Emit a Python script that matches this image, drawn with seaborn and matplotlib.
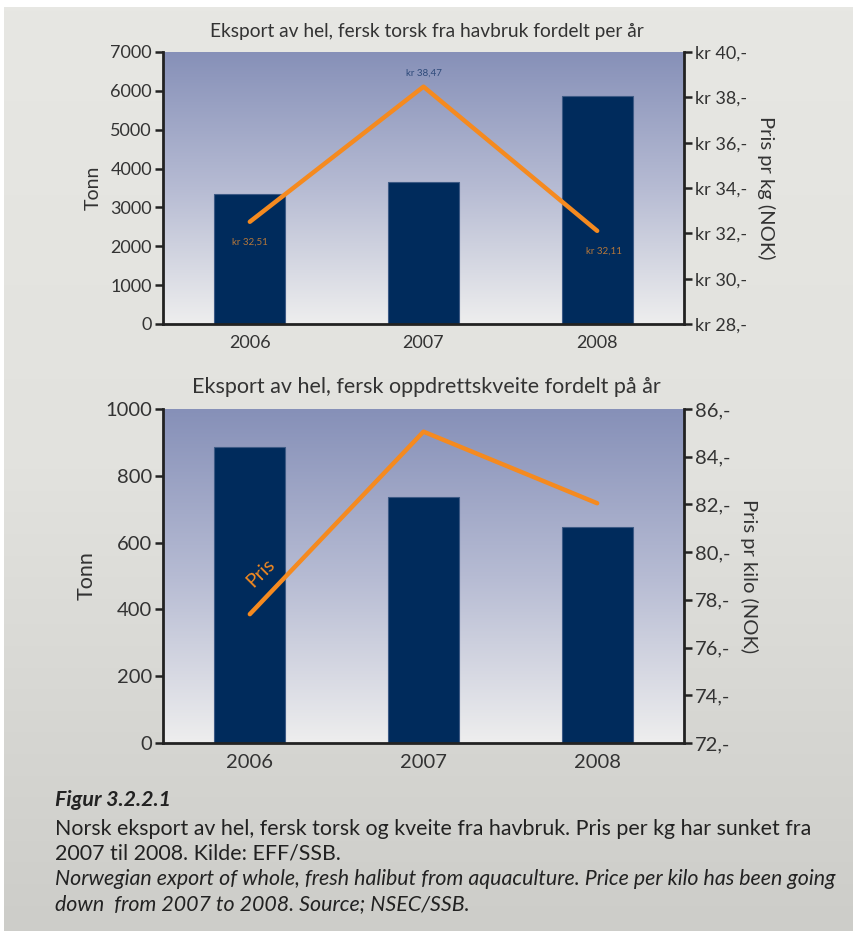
import numpy as np
import pandas as pd
import matplotlib
matplotlib.use("Agg")
import matplotlib.pyplot as plt
from matplotlib.colors import LinearSegmentedColormap
import seaborn as sns

# ---- data ----
years = ["2006", "2007", "2008"]
torsk_tonn = [3350, 3650, 5880]
torsk_pris = [32.51, 38.47, 32.11]
torsk_pris_labels = ["kr 32,51", "kr 38,47", "kr 32,11"]
kveite_tonn = [886, 737, 646]
kveite_pris = [77.4, 85.05, 82.05]

top_title = "Eksport av hel, fersk torsk fra havbruk fordelt per år"
bot_title = "Eksport av hel, fersk oppdrettskveite fordelt på år"
caption_head = "Figur 3.2.2.1"
caption_no = ["Norsk eksport av hel, fersk torsk og kveite fra havbruk. Pris per kg har sunket fra",
              "2007 til 2008. Kilde: EFF/SSB."]
caption_en = ["Norwegian export of whole, fresh halibut from aquaculture. Price per kilo has been going",
              "down  from 2007 to 2008. Source; NSEC/SSB."]

sns.set_theme(style="white")
plt.rcParams["font.family"] = ["Lato", "DejaVu Sans"]

W, H = 854, 931
fig = plt.figure(figsize=(W / 100, H / 100), dpi=100)
fig.patch.set_facecolor("white")

# figure background gradient
bg = fig.add_axes([4 / W, 0, 1 - 4 / W, 1 - 7 / H], zorder=-10)
bg_cmap = LinearSegmentedColormap.from_list("bg", ["#e7e7e3", "#e2e2de", "#cdcdc9"])
bg.imshow(np.linspace(0, 1, 256).reshape(-1, 1), aspect="auto", cmap=bg_cmap,
          extent=[0, 1, 0, 1])
bg.set_axis_off()

plot_cmap = LinearSegmentedColormap.from_list("pl", ["#8690b8", "#b6bbd3", "#eeeeee"])
BAR = "#002b5c"
LINE = "#f58a1f"
TXT = "#333333"


def make_panel(rect, tonn, pris, ymax, ystep, pmin, pmax, pstep, plabel_fmt, ylab_r, title,
               title_y, fs, title_fs, rfs):
    ax = fig.add_axes(rect)
    ax.patch.set_visible(False)
    ax.imshow(np.linspace(0, 1, 256).reshape(-1, 1), aspect="auto", cmap=plot_cmap,
              extent=[0, 1, 0, 1], transform=ax.transAxes, zorder=0)
    df = pd.DataFrame({"year": years, "tonn": tonn})
    sns.barplot(data=df, x="year", y="tonn", ax=ax, color=BAR, width=0.41,
                saturation=1, edgecolor="#3d5a85", linewidth=0.8, zorder=2)
    ax.set_xlim(-0.5, 2.5)
    ax.set_ylim(0, ymax)
    ax.set_yticks(np.arange(0, ymax + 1, ystep))
    ax.set_xlabel("")
    ax.set_ylabel("Tonn", fontsize=fs + 1, color=TXT, labelpad=6)
    ax.tick_params(axis="x", which="major", length=0, labelsize=fs, colors=TXT, pad=8)
    ax.set_xticks([0.5, 1.5], minor=True)
    ax.tick_params(axis="x", which="minor", length=6, width=1.8, color="#222222", direction="out")
    ax.tick_params(axis="y", length=6, width=1.8, color="#222222", direction="out",
                   labelsize=fs, labelcolor=TXT, pad=2, left=True)
    ax.spines["top"].set_visible(False)
    for s in ["left", "bottom"]:
        ax.spines[s].set_color("#222222")
        ax.spines[s].set_linewidth(2)
    ax.spines["right"].set_visible(False)

    ax2 = ax.twinx()
    sns.lineplot(x=np.arange(len(years)), y=pris, ax=ax2, color=LINE, linewidth=3.2,
                 solid_capstyle="round")
    ax2.set_xlim(-0.5, 2.5)
    ax2.set_ylim(pmin, pmax)
    ax2.set_yticks(np.arange(pmin, pmax + 0.1, pstep))
    ax2.set_yticklabels([plabel_fmt(v) for v in np.arange(pmin, pmax + 0.1, pstep)])
    ax2.tick_params(axis="y", length=6, width=1.8, color="#222222", direction="out",
                    labelsize=fs, labelcolor=TXT, pad=2, right=True)
    ax2.set_ylabel(ylab_r, rotation=-90, fontsize=rfs, color=TXT, labelpad=20)
    for s in ["top", "left", "bottom"]:
        ax2.spines[s].set_visible(False)
    ax2.spines["right"].set_color("#222222")
    ax2.spines["right"].set_linewidth(2)
    ax2.grid(False)
    ax.grid(False)
    fig.text((163 + 690) / 2 / W, 1 - title_y / H, title, ha="center", va="center",
             fontsize=title_fs, color=TXT)
    return ax, ax2


ax_t, ax_t2 = make_panel([163 / W, 1 - 324 / H, 521 / W, 272 / H], torsk_tonn, torsk_pris,
                         7000, 1000, 28, 40, 2, lambda v: f"kr {int(v)},-",
                         "Pris pr kg (NOK)", top_title, 32, 13, 13.8, 14.5)
ax_b, ax_b2 = make_panel([163 / W, 1 - 743 / H, 521 / W, 334 / H], kveite_tonn, kveite_pris,
                         1000, 200, 72, 86, 2, lambda v: f"{int(v)},-",
                         "Pris pr kilo (NOK)", bot_title, 387, 14.5, 15.5, 14.5)

# value labels on top chart
label_offsets = [(0, -15), (0, 10), (5, -15)]
label_colors = ["#b5773a", "#2e4a7a", "#b5773a"]
for i, (lab, (dx, dy), c) in enumerate(zip(torsk_pris_labels, label_offsets, label_colors)):
    ax_t2.annotate(lab, (i, torsk_pris[i]), xytext=(dx, dy), textcoords="offset points",
                   ha="center", va="center", fontsize=7, color=c)

# "Pris" label on bottom chart
ax_b2.annotate("Pris", (0, kveite_pris[0]), xytext=(8, 30), textcoords="offset points",
               ha="center", va="center", fontsize=14, color=LINE, rotation=45)

# caption
CF = 15.4
fig.text(55 / W, 1 - 800 / H, caption_head, fontsize=CF, fontweight="bold", style="italic",
         color="#222222", va="center")
ys = [829, 853]
for t, y in zip(caption_no, ys):
    fig.text(55 / W, 1 - y / H, t, fontsize=CF, color="#222222", va="center")
ys = [879, 904]
for t, y in zip(caption_en, ys):
    fig.text(55 / W, 1 - y / H, t, fontsize=CF, style="italic", color="#222222", va="center")

fig.savefig("out.png", dpi=100)
